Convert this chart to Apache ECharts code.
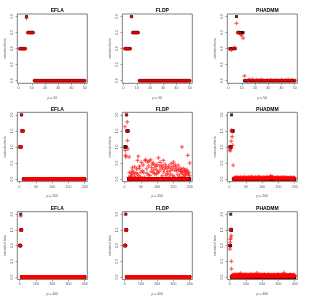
<!DOCTYPE html>
<html><head><meta charset="utf-8">
<script src="https://cdn.jsdelivr.net/npm/echarts@6/dist/echarts.min.js"></script>
<style>html,body{margin:0;padding:0;background:#fff}#c{width:314px;height:297px}</style>
</head><body><div id="c"></div><script>
// ---- data ----
const methods = ['EFLA', 'FLDP', 'PHADMM'];
const pValues = [50, 200, 400];
const xTicks50 = [0, 10, 20, 30, 40, 50];
const xTicks200 = [0, 50, 100, 150, 200];
const xTicks400 = [0, 100, 200, 300, 400];
const yTicks = [0, 0.5, 1, 1.5, 2];
const yLabel = 'estimated beta';

// true coefficients: first entries, all remaining coefficients are 0
const trueHead = [1, 1, 1, 1, 1, 2, 1.5, 1.5, 1.5, 1.5, 1.5];

// estimates whose remaining coefficients are exactly 0
const efla50Head = [1, 1, 1, 1, 1, 1.95, 1.5, 1.5, 1.5, 1.5, 1.5];
const fldp50Head = [1, 1, 1, 1, 1, 2, 1.5, 1.5, 1.5, 1.5, 1.5];
const efla200Head = [1, 1, 1, 1, 1, 2, 1.5, 1.5, 1.5, 1.5, 1.5];
const efla400Head = [1, 1, 1, 1, 1, 1.94, 1.5, 1.5, 1.5, 1.5, 1.5];
const fldp400Head = [1, 1, 1, 1, 1, 2, 1.5, 1.5, 1.5, 1.5, 1.5];

// PHADMM p = 50
const phadmm50Head = [0.98, 0.96, 1.0, 1.03, 1.02, 1.79, 1.5, 1.5, 1.44, 1.42, 1.33, 0.15];
const phadmm50Rest = [.01,0,.02,.03,0,.04,.01,0,.03,.01,.02,0,.04,.01,0,-.01,.02,0,.01,.03,0,.01,0,.02,0,.01,0,.03,.01,0,.02,0,.04,0,.01,.02,0,.01];

// FLDP p = 200
const fldp200Head = [1.63, 0.89, 0.74, 0.69, 1.0, 2.0, 1.5, 1.78, 1.2, 0.94, 1.5];
const fldp200Rest = [
 .05,0,.69,.2,0,.03,0,.1,.06,
 .18,0,.25,.35,0,.15,0,.22,0,.07,
 .38,0,.05,0,.19,0,.31,0,.16,.58,
 0,.71,.1,0,.33,.4,0,.06,0,.21,
 0,.52,0,.03,.26,0,.44,0,.2,0,
 .05,0,.58,0,.6,0,0,.32,.18,0,
 .53,0,.13,.41,0,.56,0,.11,0,.6,
 0,.24,.36,0,.47,0,.21,.5,0,.3,
 0,.17,.43,0,0,.38,.15,0,.28,.45,
 0,.2,0,.66,0,.23,0,.4,.52,0,
 0,.31,0,.43,.1,0,.37,0,.58,.22,
 0,.29,0,.46,0,.38,.12,0,0,.33,
 .17,0,.24,0,.41,0,.06,0,.35,.15,
 0,.26,.48,0,0,.32,0,.11,.39,.53,
 0,.07,.28,0,.44,0,.38,0,.25,0,
 .31,0,.14,0,.43,0,.27,0,.08,.34,
 0,.24,0,.18,.29,1.0,0,.2,0,.33,
 .08,0,.14,.27,0,.23,0,.12,.3,0,
 .19,0,.26,.74,0,.15,.21,0,.1,.5];

// PHADMM p = 200
const phadmm200Head = [0.91, 0.88, 1.0, 0.97, 1.18, 1.52, 1.5, 1.32, 1.05, 1.48, 0.43];
const phadmm200Rest = [
 .02,0,.04,.01,.03,0,.05,.02,.01,
 .03,.06,0,.02,.04,.01,0,.03,.05,.02,
 .01,.04,.02,0,.06,.03,.01,.02,0,.04,
 .05,.02,.01,.03,0,.07,.02,.04,.01,0,
 .03,.01,.05,.02,.04,0,.03,.06,.01,.02,
 0,.04,.02,.05,.01,.03,.08,.02,0,.04,
 .02,.05,.01,.03,0,.02,.04,.01,.06,.03,
 .01,0,.03,.05,.02,.04,.01,.07,.02,0,
 .04,.02,.06,.01,.03,.02,0,.05,.03,.01,
 .02,.04,0,.03,.06,.01,.02,.04,.01,.03,
 .05,.01,.03,.02,.07,.04,.01,0,.03,.02,
 .03,.06,.02,.04,.01,.08,.09,.05,.03,.02,
 .04,.07,.03,.02,.05,.01,.03,0,.04,.02,
 .01,.03,.05,.02,0,.04,.02,.06,.01,.03,
 .02,0,.04,.01,.03,.05,.02,.01,.04,0,
 .03,.05,.01,.02,.04,.02,.06,.03,0,.02,
 .01,.04,.02,.03,.05,.01,0,.03,.02,.04,
 .02,.01,.03,0,.04,.02,.05,.01,.03,.02,
 .04,.02,0,.03,.01,.05,.02,.04,.01,.03];

// PHADMM p = 400
const phadmm400Head = [0.89, 1.0, 1.2, 1.1, 1.5, 1.52, 1.5, 1.25, 1.32, 0.5, 0.26];
const phadmm400Rest = [
 .03,.01,.05,0,.02,.06,.01,.04,.02,
 .05,.02,.07,.01,.03,0,.04,.06,.02,.08,.01,.03,.05,.02,0,.04,.07,.03,.01,.05,
 .02,.06,.03,.09,.01,.04,.02,.05,0,.03,.06,.02,.04,.01,.07,.03,.05,.02,.08,.01,
 .04,.02,.06,.03,.01,.05,.12,.04,.02,.06,.01,.03,.07,.02,.05,0,.04,.06,.03,.02,
 .05,.01,.08,.03,.04,.02,.06,.01,.05,.03,.07,.02,.04,.06,.01,.03,.05,.02,.09,.04,
 .02,.06,.01,.04,.03,.07,.02,.05,.01,.03,.06,.04,.02,.08,.03,.01,.05,.02,.04,.06,
 .03,.01,.05,.02,.07,.04,.02,.06,.03,.01,.04,.1,.05,.02,.03,.06,.01,.04,.02,.05,
 .06,.02,.04,.01,.03,.07,.05,.02,.08,.03,.01,.04,.06,.02,.05,.03,.01,.07,.04,.02,
 .04,.05,.02,.06,.01,.03,.05,.13,.04,.02,.06,.03,.01,.05,.02,.07,.04,.03,.06,.01,
 .02,.04,.07,.03,.05,.01,.06,.02,.04,.03,.08,.05,.02,.01,.04,.06,.03,.05,.02,.07,
 .03,.06,.01,.05,.02,.04,.07,.03,.01,.06,.02,.05,.04,.09,.03,.02,.06,.01,.04,.05,
 .05,.02,.04,.06,.03,.01,.05,.02,.07,.04,.03,.06,.01,.05,.02,.04,.08,.03,.06,.02,
 .01,.04,.06,.02,.05,.03,.07,.04,.02,.06,.01,.03,.05,.02,.04,.07,.03,.05,.01,.04,
 .06,.03,.02,.05,.01,.04,.08,.03,.05,.02,.06,.04,.01,.03,.07,.02,.05,.04,.02,.06,
 .03,.05,.04,.01,.06,.02,.04,.07,.03,.05,.02,.06,.04,.01,.05,.03,.09,.02,.04,.05,
 .02,.06,.03,.05,.04,.02,.07,.01,.04,.06,.03,.05,.02,.04,.07,.03,.01,.05,.06,.02,
 .04,.02,.05,.03,.06,.01,.04,.07,.02,.05,.03,.06,.14,.04,.02,.05,.03,.06,.01,.04,
 .05,.03,.01,.06,.04,.02,.05,.03,.07,.04,.02,.06,.03,.05,.01,.04,.06,.02,.05,.03,
 .02,.05,.04,.06,.02,.03,.07,.05,.01,.04,.06,.03,.05,.02,.08,.04,.03,.06,.02,.05,
 .04,.01,.06,.03,.05,.02,.04,.06,.03,.01,.05,.04,.07,.02,.03,.05,.04,.02,.06,.03];

// ---- build ----
function withZeros(head, p) { const a = head.slice(); while (a.length < p) a.push(0); return a; }
function toPoints(vals) { return vals.map((v, i) => [i + 1, v]); }

const xTicksByP = {50: xTicks50, 200: xTicks200, 400: xTicks400};
const estimates = [
  withZeros(efla50Head, 50), withZeros(fldp50Head, 50), phadmm50Head.concat(phadmm50Rest),
  withZeros(efla200Head, 200), fldp200Head.concat(fldp200Rest), phadmm200Head.concat(phadmm200Rest),
  withZeros(efla400Head, 400), withZeros(fldp400Head, 400), phadmm400Head.concat(phadmm400Rest)
];

const gridLefts = [17.3, 122.3, 227.3];
const gridTops = [14, 112.3, 211.7];
const GW = 70, GH = 69.3;
const plusPath = 'path://M3.5,0H6.5V3.5H10V6.5H6.5V10H3.5V6.5H0V3.5H3.5Z';
const FONT = 'Liberation Sans';

const option = {animation: false, backgroundColor: '#fff', title: [], grid: [], xAxis: [], yAxis: [], series: []};
for (let k = 0; k < 9; k++) {
  const r = Math.floor(k / 3), c = k % 3;
  const p = pValues[r];
  const left = gridLefts[c], top = gridTops[r];
  const xt = xTicksByP[p];
  const pad = 0.04 * (p - 1);
  option.grid.push({left: left, top: top, width: GW, height: GH, show: true,
    borderColor: '#808080', borderWidth: 1, backgroundColor: 'transparent'});
  option.title.push({text: methods[c], left: left + GW / 2, top: top - 10.5, textAlign: 'center',
    textStyle: {fontSize: 5, fontWeight: 'bold', color: '#000', fontFamily: FONT}});
  option.xAxis.push({gridIndex: k, type: 'value', min: 1 - pad, max: p + pad,
    axisLine: {show: false, onZero: false}, splitLine: {show: false},
    axisTick: {show: true, length: 1.8, customValues: xt, lineStyle: {color: '#808080', width: 0.8}},
    axisLabel: {customValues: xt, fontSize: 3.5, color: '#555', margin: 3, fontFamily: FONT},
    name: 'p = ' + p, nameLocation: 'middle', nameGap: 12.5,
    nameTextStyle: {fontSize: 3.5, color: '#555', fontFamily: FONT}});
  option.yAxis.push({gridIndex: k, type: 'value', min: -0.08, max: 2.08,
    axisLine: {show: false, onZero: false}, splitLine: {show: false},
    axisTick: {show: true, length: 1.8, customValues: yTicks, lineStyle: {color: '#808080', width: 0.8}},
    axisLabel: {customValues: yTicks, fontSize: 3.5, color: '#555', margin: 3, rotate: 90,
      formatter: v => Number(v).toFixed(1), fontFamily: FONT},
    name: yLabel, nameLocation: 'middle', nameGap: 11, nameRotate: 90,
    nameTextStyle: {fontSize: 3.2, color: '#555', fontFamily: FONT}});
  option.series.push({type: 'scatter', xAxisIndex: k, yAxisIndex: k, symbol: 'rect', symbolSize: 3,
    itemStyle: {color: '#000'}, data: toPoints(withZeros(trueHead, p)), silent: true});
  option.series.push({type: 'scatter', xAxisIndex: k, yAxisIndex: k, symbol: plusPath, symbolSize: 4,
    itemStyle: {color: 'rgba(255,0,0,0.8)'}, data: toPoints(estimates[k]), silent: true});
}
const chart = echarts.init(document.getElementById('c'), null, {renderer: 'canvas'});
chart.setOption(option);
</script></body></html>
